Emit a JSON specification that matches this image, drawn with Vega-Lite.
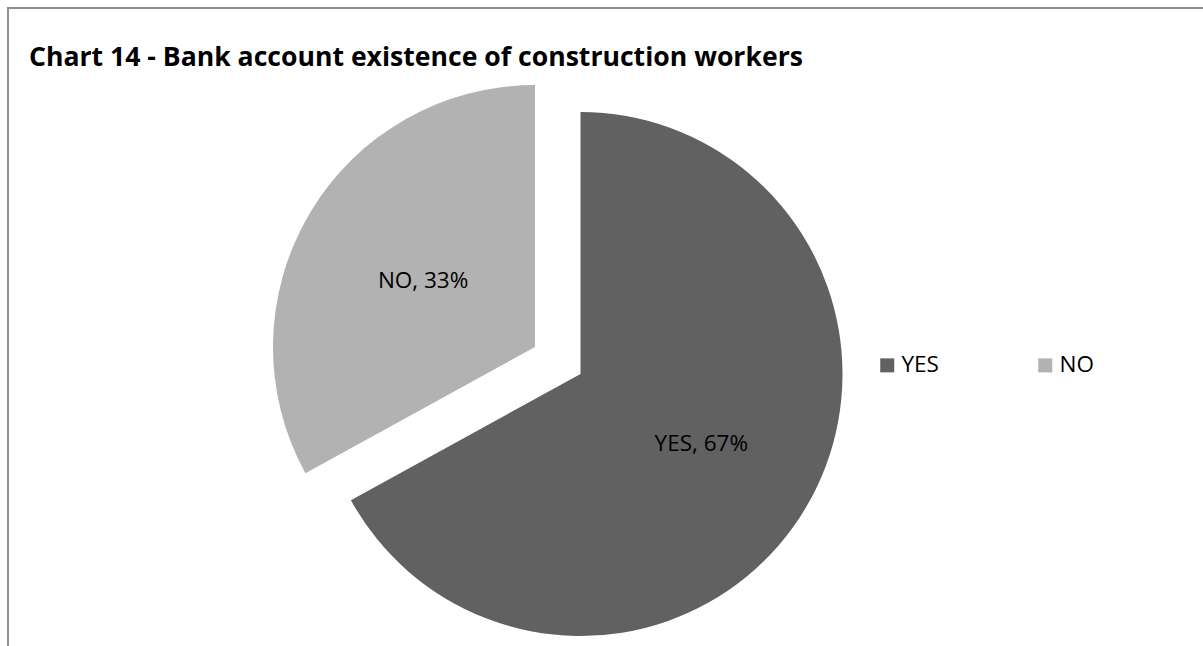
{
  "$schema": "https://vega.github.io/schema/vega-lite/v6.json",
  "width": 1210,
  "height": 650,
  "padding": {"left": 8, "top": 8, "right": 0, "bottom": 0},
  "background": "white",
  "view": {"stroke": "#8f8f8f", "strokeWidth": 2, "fill": "white"},
  "config": {
    "view": {"stroke": "#8f8f8f", "strokeWidth": 2},
    "font": "Open Sans"
  },
  "title": {
    "text": "Chart 14 - Bank account existence of construction workers",
    "anchor": "start",
    "frame": "group",
    "baseline": "alphabetic",
    "offset": -85,
    "dx": 21,
    "font": "Open Sans",
    "fontSize": 26.6,
    "fontWeight": "bold",
    "color": "black"
  },
  "data": {
    "values": [
      {"answer": "YES", "pct": 67, "label": "YES, 67%"},
      {"answer": "NO", "pct": 33, "label": "NO, 33%"}
    ]
  },
  "encoding": {
    "theta": {"field": "pct", "type": "quantitative", "stack": true},
    "order": {"field": "pct", "type": "quantitative", "sort": "descending"}
  },
  "layer": [
    {
      "mark": {"type": "arc", "outerRadius": 262, "x": 572.5, "y": 366},
      "encoding": {
        "color": {
          "field": "answer",
          "type": "nominal",
          "scale": {"domain": ["YES", "NO"], "range": ["#616161", "#b2b2b2"]},
          "legend": {
            "title": null,
            "orient": "none",
            "legendX": 868,
            "legendY": 346,
            "direction": "horizontal",
            "symbolType": "square",
            "symbolSize": 196,
            "symbolStrokeWidth": 0,
            "labelFont": "Open Sans",
            "labelFontSize": 22.5,
            "labelColor": "black",
            "labelOffset": 3,
            "columnPadding": 95
          }
        },
        "opacity": {"condition": {"test": "datum.answer === 'YES'", "value": 1}, "value": 0}
      }
    },
    {
      "mark": {"type": "text", "radius": 138, "x": 574.5, "y": 366, "fontSize": 22.5, "color": "black"},
      "encoding": {
        "text": {"field": "label"},
        "opacity": {"condition": {"test": "datum.answer === 'YES'", "value": 1}, "value": 0}
      }
    },
    {
      "mark": {"type": "arc", "outerRadius": 262, "x": 572.5, "y": 366, "xOffset": -45.5, "yOffset": -27},
      "encoding": {
        "color": {"field": "answer", "type": "nominal"},
        "opacity": {"condition": {"test": "datum.answer === 'NO'", "value": 1}, "value": 0}
      }
    },
    {
      "mark": {"type": "text", "radius": 130, "x": 572.5, "y": 366, "xOffset": -45.5, "yOffset": -27, "fontSize": 22.5, "color": "black"},
      "encoding": {
        "text": {"field": "label"},
        "opacity": {"condition": {"test": "datum.answer === 'NO'", "value": 1}, "value": 0}
      }
    }
  ]
}
